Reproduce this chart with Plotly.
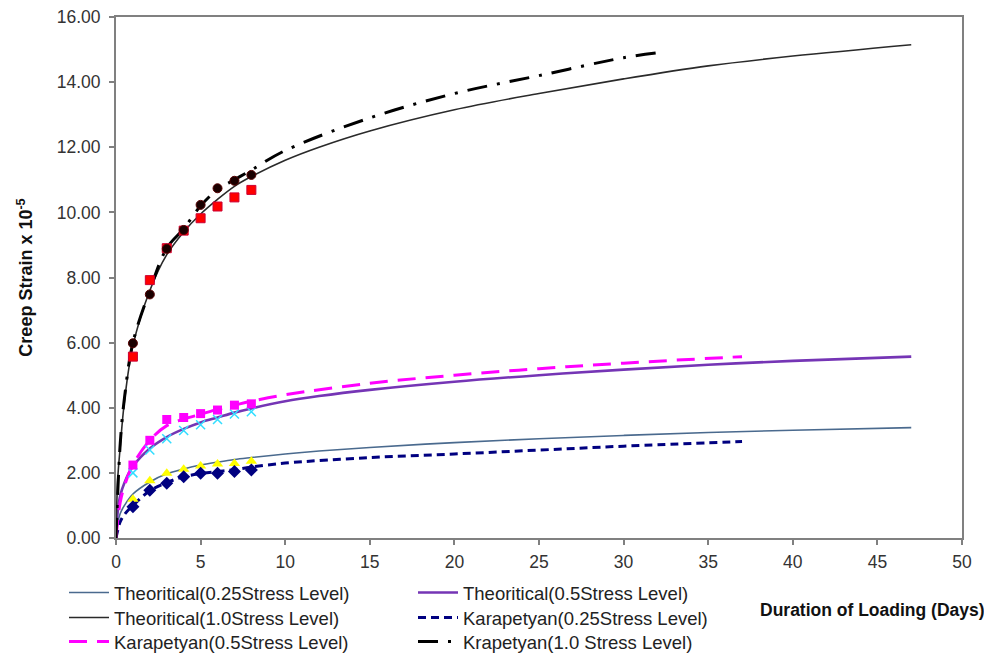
import plotly.graph_objects as go

# ---- data ----
days_t = [0, 0.1, 0.25, 0.5, 1, 2, 3, 4, 5, 6, 7, 8, 10, 12, 15, 20, 25, 30, 35, 40, 47]
theo_025 = [0, 0.45, 0.75, 1.0, 1.35, 1.72, 1.97, 2.12, 2.24, 2.33, 2.41, 2.47, 2.58, 2.67, 2.78, 2.93, 3.05, 3.15, 3.24, 3.31, 3.39]
theo_05 = [0, 0.8, 1.3, 1.7, 2.2, 2.75, 3.1, 3.35, 3.55, 3.7, 3.85, 3.98, 4.2, 4.36, 4.55, 4.8, 5.0, 5.17, 5.32, 5.44, 5.57]
theo_10 = [0, 1.8, 2.8, 4.2, 5.9, 7.6, 8.7, 9.4, 9.95, 10.4, 10.8, 11.1, 11.6, 12.0, 12.5, 13.15, 13.65, 14.1, 14.5, 14.8, 15.15]

days_k025 = [0, 0.25, 0.5, 1, 2, 3, 4, 5, 6, 7, 8, 10, 15, 20, 25, 30, 37]
kar_025 = [0, 0.5, 0.72, 1.0, 1.45, 1.7, 1.88, 1.98, 2.04, 2.1, 2.18, 2.3, 2.47, 2.58, 2.7, 2.82, 2.96]
days_k05 = [0, 0.25, 0.5, 1, 2, 3, 4, 5, 6, 7, 8, 10, 15, 20, 25, 30, 37]
kar_05 = [0, 1.1, 1.6, 2.25, 3.0, 3.45, 3.65, 3.8, 3.95, 4.08, 4.2, 4.4, 4.75, 5.0, 5.2, 5.37, 5.57]
days_k10 = [0, 0.25, 0.5, 1, 2, 3, 4, 5, 6, 7, 8, 10, 15, 20, 25, 30, 32]
kar_10 = [0, 2.9, 4.3, 6.0, 7.6, 8.9, 9.5, 10.2, 10.7, 11.0, 11.3, 11.9, 12.9, 13.65, 14.2, 14.75, 14.9]

days_exp = [1, 2, 3, 4, 5, 6, 7, 8]
exp_circle_10 = [5.98, 7.48, 8.88, 9.46, 10.23, 10.74, 10.97, 11.15]
exp_square_10 = [5.57, 7.92, 8.9, 9.44, 9.82, 10.18, 10.46, 10.69]
exp_square_05 = [2.24, 3.0, 3.64, 3.7, 3.82, 3.93, 4.08, 4.12]
exp_cross_05 = [2.0, 2.7, 3.05, 3.3, 3.48, 3.64, 3.81, 3.88]
exp_tri_025 = [1.19, 1.76, 1.99, 2.11, 2.21, 2.27, 2.29, 2.36]
exp_diam_025 = [0.96, 1.47, 1.68, 1.88, 1.99, 1.99, 2.04, 2.09]

y_ticks = [0, 2, 4, 6, 8, 10, 12, 14, 16]
x_ticks = [0, 5, 10, 15, 20, 25, 30, 35, 40, 45, 50]

FONT = "Liberation Sans, Arial, sans-serif"
LEG_FONT = dict(family=FONT, size=18.5, color="#222222")

# figure is placed 8px inside the page (body margin), so sizes are reduced by 8
W, H = 984, 647
ML, MR, MT, MB = 108, 30, 9, 117
pw = W - ML - MR
ph = H - MT - MB


def px_x(p):  # page pixel -> paper x
    return (p - 8 - ML) / pw


def px_y(p):  # page pixel -> paper y
    return (H - MB - (p - 8)) / ph


fig = go.Figure()

fig.add_trace(go.Scatter(x=days_t, y=theo_025, mode="lines", line_shape="spline",
                         name="Theoritical(0.25Stress Level)", legend="legend",
                         line=dict(color="#4A6A8E", width=1.6)))
fig.add_trace(go.Scatter(x=days_t, y=theo_05, mode="lines", line_shape="spline",
                         name="Theoritical(0.5Stress Level)", legend="legend",
                         line=dict(color="#7535B5", width=2.6)))
fig.add_trace(go.Scatter(x=days_t, y=theo_10, mode="lines", line_shape="spline",
                         name="Theoritical(1.0Stress Level)", legend="legend2",
                         line=dict(color="#2A2A2A", width=1.6)))
fig.add_trace(go.Scatter(x=days_k025, y=kar_025, mode="lines", line_shape="spline",
                         name="Karapetyan(0.25Stress Level)", legend="legend2",
                         line=dict(color="#000080", width=3, dash="8px,5px")))
fig.add_trace(go.Scatter(x=days_k05, y=kar_05, mode="lines", line_shape="spline",
                         name="Karapetyan(0.5Stress Level)", legend="legend3",
                         line=dict(color="#FF00FF", width=3, dash="18px,10px")))
fig.add_trace(go.Scatter(x=days_k10, y=kar_10, mode="lines", line_shape="spline",
                         name="Krapetyan(1.0 Stress Level)", legend="legend3",
                         line=dict(color="#000000", width=3, dash="20px,10px,3px,10px")))

# experimental markers (not in legend)
fig.add_trace(go.Scatter(x=days_exp, y=exp_cross_05, mode="markers", showlegend=False,
                         marker=dict(symbol="x-thin-open", size=9, color="#33DDFF",
                                     line=dict(color="#33DDFF", width=1.5))))
fig.add_trace(go.Scatter(x=days_exp, y=exp_square_05, mode="markers", showlegend=False,
                         marker=dict(symbol="square", size=9, color="#FF00FF")))
fig.add_trace(go.Scatter(x=days_exp, y=exp_tri_025, mode="markers", showlegend=False,
                         marker=dict(symbol="triangle-up", size=10, color="#FFFF00")))
fig.add_trace(go.Scatter(x=days_exp, y=exp_diam_025, mode="markers", showlegend=False,
                         marker=dict(symbol="diamond", size=10, color="#000080")))
fig.add_trace(go.Scatter(x=days_exp, y=exp_square_10, mode="markers", showlegend=False,
                         marker=dict(symbol="square", size=9, color="#FF0000",
                                     line=dict(color="#CC0033", width=1))))
fig.add_trace(go.Scatter(x=days_exp, y=exp_circle_10, mode="markers", showlegend=False,
                         marker=dict(symbol="circle", size=9, color="#1A0000",
                                     line=dict(color="#550000", width=1))))


def leg(page_row_y):
    return dict(orientation="h", x=px_x(64), xanchor="left",
                y=px_y(page_row_y), yanchor="middle",
                entrywidth=294, entrywidthmode="pixels", font=LEG_FONT,
                bgcolor="rgba(0,0,0,0)", itemwidth=40)


fig.update_layout(
    width=W, height=H,
    margin=dict(l=ML, r=MR, t=MT, b=MB, autoexpand=False),
    paper_bgcolor="white", plot_bgcolor="white",
    font=dict(family=FONT, size=17, color="#222222"),
    showlegend=True,
    legend=leg(593), legend2=leg(618), legend3=leg(642),
    xaxis=dict(range=[0, 50], tickvals=x_ticks, ticktext=[str(v) for v in x_ticks],
               showgrid=False, zeroline=False, showline=True, linecolor="#808080",
               linewidth=2, mirror=True, ticks="outside", ticklen=5, tickcolor="#808080",
               tickwidth=1.5, automargin=False, ticklabelstandoff=2,
               ticklabeloverflow="allow",
               tickfont=dict(family=FONT, size=17.5, color="#333333")),
    yaxis=dict(range=[0, 16], tickvals=y_ticks, ticktext=[f"{v:.2f}" for v in y_ticks],
               showgrid=False, zeroline=False, showline=True, linecolor="#808080",
               linewidth=2, mirror=True, ticks="outside", ticklen=5, tickcolor="#808080",
               tickwidth=1.5, automargin=False, ticklabelstandoff=5,
               ticklabeloverflow="allow",
               tickfont=dict(family=FONT, size=17.5, color="#333333"),
               title=dict(text="<b>Creep Strain x 10<sup>-5</sup></b>", standoff=19,
                          font=dict(family=FONT, size=18, color="#111111"))),
    annotations=[dict(text="<b>Duration of Loading (Days)</b>",
                      x=px_x(872), y=px_y(610),
                      xref="paper", yref="paper", showarrow=False,
                      xanchor="center", yanchor="middle",
                      font=dict(family=FONT, size=17.5, color="#111111"))],
)

fig.write_html("out.html")
